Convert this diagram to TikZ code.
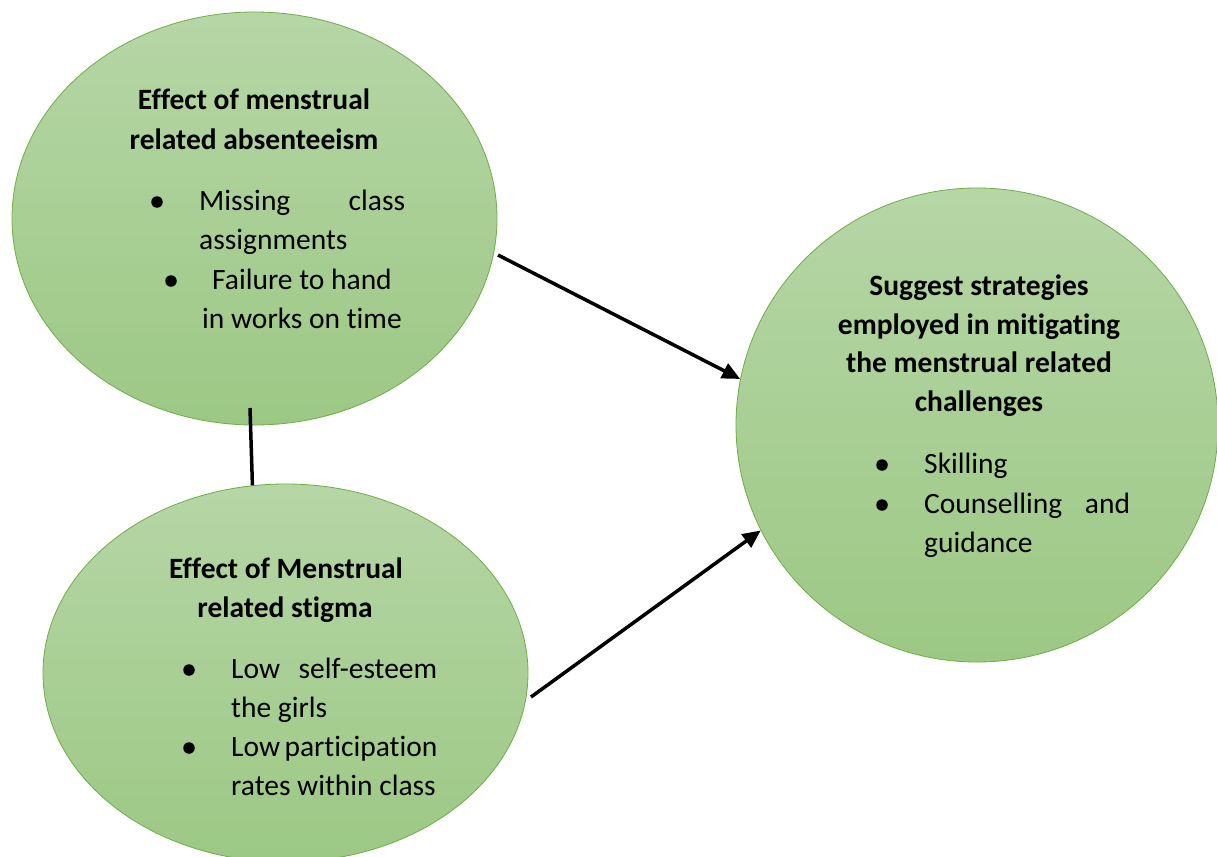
\documentclass[tikz,border=0pt]{standalone}
\usepackage{fontspec}
\setmainfont{Carlito}[Ligatures=NoCommon]
\usetikzlibrary{shapes.geometric,arrows.meta}
\definecolor{gtop}{RGB}{182,214,166}
\definecolor{gbot}{RGB}{156,200,132}
\definecolor{gedge}{RGB}{112,173,71}
\begin{document}
\begin{tikzpicture}[x=1pt,y=-1pt,
  bubble/.style={ellipse, draw=gedge, line width=0.8pt, top color=gtop, bottom color=gbot, inner sep=0pt},
  txt/.style={inner sep=0pt, font=\fontsize{29.5}{39}\selectfont},
  ttl/.style={txt, anchor=base, font=\fontsize{29.5}{39}\selectfont\bfseries},
  itm/.style={txt, anchor=base west},
  itc/.style={txt, anchor=base},
  dot/.style={circle, fill=black, inner sep=0pt, minimum size=11.5pt},
  conn/.style={draw=black, line width=3.5pt},
  arr/.style={conn, -{Triangle[length=18pt,width=16pt]}}
]
\useasboundingbox (0,0) rectangle (1217,856);
\fill[white] (0,0) rectangle (1217,856);

% ellipses
\node[bubble, minimum width=485pt, minimum height=413pt] (e1) at (254.5,218.5) {};
\node[bubble, minimum width=485pt, minimum height=378pt] (e2) at (285.5,673) {};
\node[bubble, minimum width=482pt, minimum height=474pt] (e3) at (977,425) {};

% ellipse 1 text
\node[ttl] (e1t1) at (254,110) {Effect of menstrual};
\node[ttl] (e1t2) at (254,149) {related absenteeism};
\node[dot] (e1d1) at (157,202) {};
\node[itm] (e1l1) at (199,210) {\makebox[206pt][s]{Missing\hfill class}};
\node[itm] (e1l2) at (199,249) {assignments};
\node[dot] (e1d2) at (171,281) {};
\node[itc] (e1l3) at (302,289) {Failure to hand};
\node[itc] (e1l4) at (302,328) {in works on time};

% ellipse 2 text
\node[ttl] (e2t1) at (286,578) {Effect of Menstrual};
\node[ttl] (e2t2) at (285,617) {related stigma};
\node[dot] (e2d1) at (189,670) {};
\node[itm] (e2l1) at (231,678) {\makebox[206pt][s]{Low\hfill self-esteem}};
\node[itm] (e2l2) at (231,717) {the girls};
\node[dot] (e2d2) at (189,748) {};
\node[itm] (e2l3) at (231,756) {\makebox[206pt][s]{Low participation}};
\node[itm] (e2l4) at (231,795) {rates within class};

% ellipse 3 text
\node[ttl] (e3t1) at (979,295) {Suggest strategies};
\node[ttl] (e3t2) at (979,334) {employed in mitigating};
\node[ttl] (e3t3) at (979,372) {the menstrual related};
\node[ttl] (e3t4) at (979,411) {challenges};
\node[dot] (e3d1) at (882,465) {};
\node[itm] (e3l1) at (924,473) {Skilling};
\node[dot] (e3d2) at (882,505) {};
\node[itm] (e3l2) at (924,513) {\makebox[206pt][s]{Counselling\hfill and}};
\node[itm] (e3l3) at (924,552) {guidance};

% connectors
\coordinate (l1s) at (250,408);
\coordinate (a1s) at (498,255);
\coordinate (a2s) at (531,697);
\draw[conn] (l1s) -- (e2.100);
\draw[arr] (a1s) -- (e3.169);
\draw[arr] (a2s) -- (e3.206);
\end{tikzpicture}
\end{document}
